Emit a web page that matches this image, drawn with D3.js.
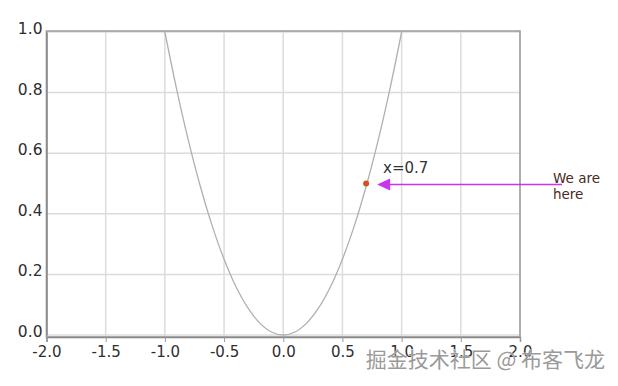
<!DOCTYPE html>
<html>
<head>
<meta charset="utf-8">
<script src="https://cdn.jsdelivr.net/npm/d3@7"></script>
<style>
  body { margin: 0; background: #fff; }
  svg { display: block; }
</style>
</head>
<body>
<div id="chart"></div>
<script>
// values
var curveX = [-1.0, -0.9, -0.8, -0.7, -0.6, -0.5, -0.4, -0.3, -0.2, -0.1, 0.0,
              0.1, 0.2, 0.3, 0.4, 0.5, 0.6, 0.7, 0.8, 0.9, 1.0];
var curveY = [1.00, 0.81, 0.64, 0.49, 0.36, 0.25, 0.16, 0.09, 0.04, 0.01, 0.00,
              0.01, 0.04, 0.09, 0.16, 0.25, 0.36, 0.49, 0.64, 0.81, 1.00];
var xTicks = [-2.0, -1.5, -1.0, -0.5, 0.0, 0.5, 1.0, 1.5, 2.0];
var yTicks = [0.0, 0.2, 0.4, 0.6, 0.8, 1.0];
var marker = [0.7, 0.5];
var markerLabel = "x=0.7";
var noteLines = ["We are", "here"];

var w = 618, h = 386;
var padLeft = 46.5, padRight = 520, padTop = 31, padBottom = 337;

var xScale = d3.scaleLinear().domain([-2, 2]).range([padLeft, padRight]);
var yScale = d3.scaleLinear().domain([0, 1]).range([335, 32]);

var svg = d3.select("#chart").append("svg")
    .attr("width", w)
    .attr("height", h);

svg.append("defs").append("clipPath").attr("id", "clip")
  .append("rect")
    .attr("x", padLeft).attr("y", padTop)
    .attr("width", padRight - padLeft).attr("height", padBottom - padTop);

// grid
svg.append("g").selectAll("line")
  .data(xTicks)
  .enter().append("line")
    .attr("x1", function(d) { return xScale(d); })
    .attr("x2", function(d) { return xScale(d); })
    .attr("y1", padTop).attr("y2", padBottom)
    .attr("stroke", "#dcdcdc").attr("stroke-width", 1.5);
svg.append("g").selectAll("line")
  .data(yTicks)
  .enter().append("line")
    .attr("y1", function(d) { return yScale(d); })
    .attr("y2", function(d) { return yScale(d); })
    .attr("x1", padLeft).attr("x2", padRight)
    .attr("stroke", "#dcdcdc").attr("stroke-width", 1.5);

// frame
svg.append("rect")
    .attr("x", padLeft).attr("y", padTop)
    .attr("width", padRight - padLeft).attr("height", padBottom - padTop)
    .attr("fill", "none")
    .attr("stroke", "#999")
    .attr("stroke-width", 1.5);

// axes
var xAxis = d3.axisBottom(xScale).tickValues(xTicks).tickSize(5)
    .tickFormat(d3.format(".1f"));
var yAxis = d3.axisLeft(yScale).tickValues(yTicks).tickSize(0)
    .tickFormat(d3.format(".1f"));

var gx = svg.append("g")
    .attr("transform", "translate(0," + padBottom + ")")
    .call(xAxis);
gx.select(".domain").attr("stroke", "#888").attr("stroke-width", 1.5);
gx.selectAll(".tick line").attr("stroke", "#999");
gx.selectAll("text")
    .attr("fill", "#2e2e2e")
    .attr("font-family", "DejaVu Sans, Verdana, sans-serif")
    .attr("font-size", "15px")
    .attr("y", 7)
    .attr("dy", "0.85em")
    .text(function(d) { return d3.format(".1f")(d).replace("\u2212", "-"); });

var gy = svg.append("g")
    .attr("transform", "translate(" + padLeft + ",0)")
    .call(yAxis);
gy.select(".domain").attr("stroke", "#888").attr("stroke-width", 1.5);
gy.selectAll("text")
    .attr("fill", "#2e2e2e")
    .attr("font-family", "DejaVu Sans, Verdana, sans-serif")
    .attr("font-size", "15.5px")
    .attr("x", -4)
    .attr("dy", "0.1em");

// parabola
var line = d3.line()
    .x(function(d, i) { return xScale(curveX[i]); })
    .y(function(d) { return yScale(d); })
    .curve(d3.curveCatmullRom);

svg.append("path")
    .datum(curveY)
    .attr("clip-path", "url(#clip)")
    .attr("d", line)
    .attr("fill", "none")
    .attr("stroke", "#b0b0b0")
    .attr("stroke-width", 1.3);

// marked point
svg.append("circle")
    .attr("cx", xScale(marker[0]))
    .attr("cy", yScale(marker[1]))
    .attr("r", 3)
    .attr("fill", "#d2521f");

svg.append("text")
    .attr("x", xScale(marker[0]) + 17)
    .attr("y", yScale(marker[1]) - 11)
    .attr("font-family", "DejaVu Sans, Verdana, sans-serif")
    .attr("font-size", "15px")
    .attr("fill", "#333")
    .text(markerLabel);

// arrow pointing at the point
var arrowY = yScale(marker[1]) + 1;
var tipX = xScale(marker[0]) + 11;
svg.append("line")
    .attr("x1", tipX + 10).attr("x2", 562)
    .attr("y1", arrowY).attr("y2", arrowY)
    .attr("stroke", "#cc33ee")
    .attr("stroke-width", 1.3);
svg.append("path")
    .attr("d", "M" + tipX + "," + arrowY +
               "L" + (tipX + 13) + "," + (arrowY - 6) +
               "L" + (tipX + 13) + "," + (arrowY + 6) + "Z")
    .attr("fill", "#cc33ee");

svg.append("g").selectAll("text")
  .data(noteLines)
  .enter().append("text")
    .attr("x", 553)
    .attr("y", function(d, i) { return 183 + i * 16; })
    .attr("font-family", "DejaVu Sans, Verdana, sans-serif")
    .attr("font-size", "13.5px")
    .attr("fill", "#4a2a1c")
    .text(function(d) { return d; });

// watermark
svg.append("text")
    .attr("x", 605)
    .attr("y", 367)
    .attr("text-anchor", "end")
    .attr("font-family", "Noto Sans CJK SC, sans-serif")
    .attr("font-size", "21px")
    .attr("fill", "#9a9a9a")
    .attr("stroke", "#fff")
    .attr("stroke-width", 0.6)
    .attr("paint-order", "stroke")
    .text("掘金技术社区 @ 布客飞龙");
</script>
</body>
</html>
